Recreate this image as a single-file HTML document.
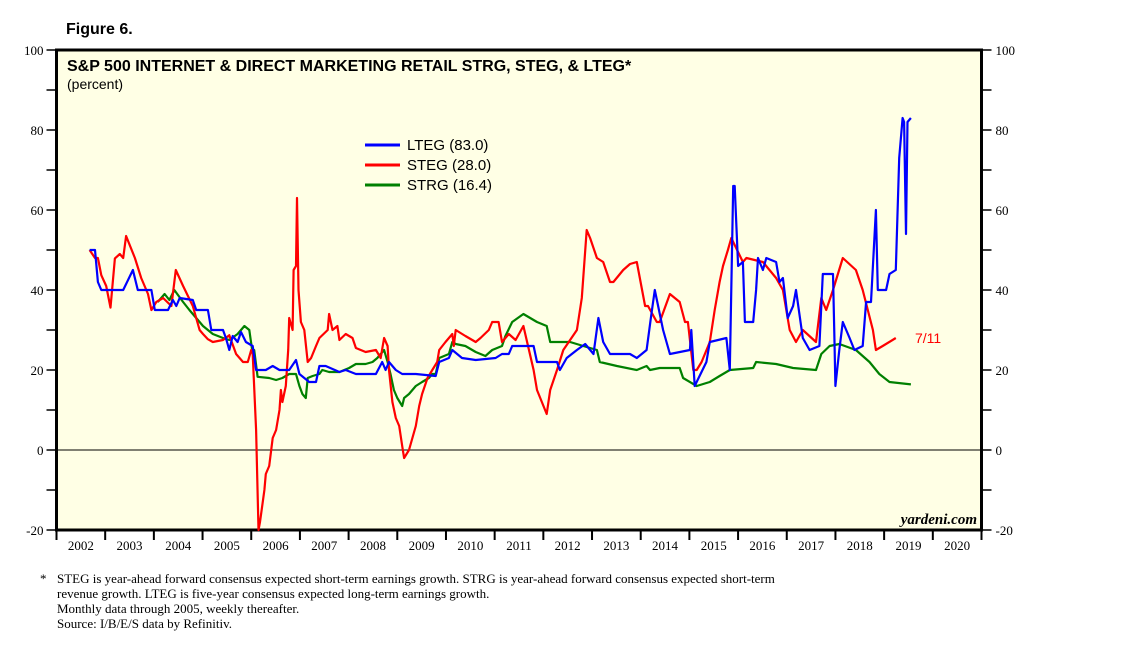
<!DOCTYPE html>
<html><head><meta charset="utf-8"><style>
body{margin:0;background:#fff;}
svg text{font-family:"Liberation Sans",sans-serif;}
.serif{font-family:"Liberation Serif",serif;}
</style></head><body>
<svg id="c" width="1138" height="644" xmlns="http://www.w3.org/2000/svg">
<text x="66" y="34" font-size="16" font-weight="bold">Figure 6.</text>
<rect x="56.5" y="50" width="925" height="480" fill="#ffffe5" stroke="#000" stroke-width="3"/>
<text x="67" y="71" font-size="16" font-weight="bold">S&amp;P 500 INTERNET &amp; DIRECT MARKETING RETAIL STRG, STEG, &amp; LTEG*</text>
<text x="67" y="89" font-size="14">(percent)</text>
<g id="axes"></g>
<g id="series"></g>
<g>
<line x1="365" y1="145" x2="400" y2="145" stroke="#0000ff" stroke-width="3"/>
<text x="407" y="150" font-size="15">LTEG (83.0)</text>
<line x1="365" y1="165" x2="400" y2="165" stroke="#ff0000" stroke-width="3"/>
<text x="407" y="170" font-size="15">STEG (28.0)</text>
<line x1="365" y1="185" x2="400" y2="185" stroke="#008000" stroke-width="3"/>
<text x="407" y="190" font-size="15">STRG (16.4)</text>
</g>
<text x="915" y="343" font-size="14" fill="#ff0000">7/11</text>
<text class="serif" x="977" y="524" font-size="15" font-style="italic" font-weight="bold" text-anchor="end">yardeni.com</text>
<g class="serif" font-size="13">
<text class="serif" x="40" y="583">*</text>
<text class="serif" x="57" y="583">STEG is year-ahead forward consensus expected short-term earnings growth. STRG is year-ahead forward consensus expected short-term</text>
<text class="serif" x="57" y="598">revenue growth. LTEG is five-year consensus expected long-term earnings growth.</text>
<text class="serif" x="57" y="613">Monthly data through 2005, weekly thereafter.</text>
<text class="serif" x="57" y="628">Source: I/B/E/S data by Refinitiv.</text>
</g>
</svg>
<script>
const yTicks=[-20,0,20,40,60,80,100];
const years=[2002,2003,2004,2005,2006,2007,2008,2009,2010,2011,2012,2013,2014,2015,2016,2017,2018,2019,2020];
const ltegX=[2002.68,2002.79,2002.85,2002.92,2003.37,2003.57,2003.67,2003.95,2004.02,2004.29,2004.39,2004.46,2004.53,2004.80,2004.87,2005.11,2005.18,2005.42,2005.48,2005.55,2005.62,2005.72,2005.79,2005.89,2006.03,2006.10,2006.30,2006.44,2006.58,2006.78,2006.92,2006.99,2007.19,2007.33,2007.40,2007.53,2007.81,2007.94,2008.15,2008.56,2008.69,2008.76,2008.83,2008.97,2009.10,2009.38,2009.79,2009.86,2010.06,2010.13,2010.33,2010.61,2011.02,2011.15,2011.29,2011.36,2011.80,2011.87,2012.28,2012.34,2012.48,2012.69,2012.86,2013.03,2013.13,2013.23,2013.37,2013.78,2013.92,2014.12,2014.22,2014.29,2014.46,2014.60,2015.01,2015.04,2015.11,2015.35,2015.42,2015.76,2015.83,2015.90,2015.93,2016.00,2016.10,2016.14,2016.31,2016.37,2016.41,2016.51,2016.58,2016.78,2016.85,2016.92,2017.02,2017.13,2017.19,2017.33,2017.47,2017.67,2017.74,2017.95,2017.98,2018.00,2018.08,2018.15,2018.29,2018.39,2018.56,2018.63,2018.73,2018.83,2018.87,2019.04,2019.11,2019.24,2019.31,2019.38,2019.41,2019.45,2019.48,2019.55];
const ltegV=[50,50,42,40,40,45,40,40,35,35,37.5,36,38,37.5,35,35,30,30,28,25,28.5,27,29.5,27,26,20,20,21,20,20,22.5,19,17,17,21,21,19.5,20,19,19,22,20,22,20,19,19,18.5,22,23,25,23,22.5,23,24,24,26,26,22,22,20,23,25,26.5,24,33,27,24,24,23,25,34,40,30,24,25,30,16,22,27,28,20,66,66,46,47,32,32,40,48,45,48,47,42,43,33,36,40,28,25,26,44,44,27,16,25,32,28,25,26,37,37,60,40,40,44,45,73,83,82,54,82,83];
const stegX=[2002.68,2002.79,2002.85,2002.92,2003.02,2003.11,2003.20,2003.30,2003.37,2003.43,2003.61,2003.74,2003.88,2003.95,2004.05,2004.19,2004.36,2004.45,2004.60,2004.80,2004.94,2005.01,2005.11,2005.21,2005.42,2005.55,2005.69,2005.83,2005.93,2006.00,2006.03,2006.10,2006.15,2006.18,2006.27,2006.30,2006.37,2006.44,2006.51,2006.58,2006.61,2006.64,2006.71,2006.76,2006.78,2006.85,2006.87,2006.92,2006.94,2006.97,2007.02,2007.09,2007.16,2007.23,2007.33,2007.40,2007.57,2007.60,2007.67,2007.77,2007.81,2007.94,2008.08,2008.15,2008.35,2008.56,2008.66,2008.73,2008.80,2008.83,2008.90,2008.97,2009.04,2009.10,2009.14,2009.24,2009.31,2009.38,2009.45,2009.51,2009.62,2009.72,2009.82,2009.86,2009.99,2010.13,2010.16,2010.20,2010.40,2010.61,2010.71,2010.88,2010.95,2011.08,2011.15,2011.29,2011.43,2011.59,2011.80,2011.87,2012.07,2012.14,2012.28,2012.41,2012.69,2012.79,2012.89,2012.96,2013.10,2013.23,2013.37,2013.44,2013.64,2013.78,2013.92,2014.09,2014.15,2014.33,2014.39,2014.60,2014.80,2014.91,2014.97,2015.08,2015.15,2015.25,2015.42,2015.52,2015.62,2015.69,2015.79,2015.86,2016.10,2016.17,2016.51,2016.78,2016.92,2017.06,2017.19,2017.33,2017.60,2017.71,2017.81,2017.95,2018.15,2018.42,2018.56,2018.77,2018.83,2018.97,2019.24,2019.55];
const stegV=[50,48,48,43.7,41,35.6,47.9,49,48,53.5,48,43,39,35,37,38,36,45,41,36,30,29,27.7,27,27.5,28.7,24,22,22,25,24,5,-20,-18,-10,-6,-4,3,5,10,15,12,16,25,33,30,45,46,63,40,32,30,22,23,26,28,30,34,30,31,27.5,29,28,25.5,24.5,25,23,28,26,20,12,8,6,1,-2,0,3,6,11,14,18,20,22,25,27,29,26,30,28.5,27,28,30,32,32,27,29,27.5,31,20,15,9,15,20,25,30,38,55,53,48,47,42,42,45,46.5,47,36,36,32,32,39,37,32,32,20,20,22,27,35,42,46,50,53,47,48,47,43,40,30,27,30,27,38,35,40,48,45,40,30,25,26,28];
const strgX=[2004.08,2004.22,2004.32,2004.42,2004.60,2004.73,2004.87,2005.01,2005.21,2005.42,2005.55,2005.72,2005.86,2005.96,2006.03,2006.06,2006.13,2006.37,2006.51,2006.64,2006.78,2006.92,2006.99,2007.05,2007.12,2007.16,2007.26,2007.40,2007.46,2007.60,2007.81,2008.01,2008.15,2008.35,2008.49,2008.59,2008.73,2008.80,2008.86,2008.93,2009.00,2009.10,2009.14,2009.24,2009.38,2009.51,2009.65,2009.72,2009.79,2009.86,2010.06,2010.13,2010.20,2010.40,2010.61,2010.81,2010.95,2011.15,2011.22,2011.36,2011.59,2011.87,2012.07,2012.14,2012.55,2012.82,2013.10,2013.16,2013.51,2013.92,2014.12,2014.19,2014.39,2014.80,2014.87,2015.15,2015.42,2015.62,2015.83,2016.31,2016.37,2016.78,2017.13,2017.60,2017.71,2017.88,2018.08,2018.42,2018.70,2018.90,2019.11,2019.55];
const strgV=[37,39,37.5,40,37,35,33,31,29,28,27.5,29,31,30,24,25,18.3,18,17.5,18,19,19,16,14,13,18,18.5,19,20,19.5,19.5,20.5,21.5,21.5,22,23,25,22,19,15,13,11,13,14,16,17,18,19,19,23,24,27,26.5,26,24.5,23.5,25,26,28.5,32,34,32,31,27,27,26,25,22,21,20,21,20,20.5,20.5,18,16,17,18.5,20,20.5,22,21.5,20.5,20,24,26,26.5,25,22,19,17,16.4];
</script>
<script>
(function(){
const NS="http://www.w3.org/2000/svg";
const L=56.5,R=981.5,T=50,B=530;
const xs=y=>L+(y-2002)*(R-L)/19;
const ys=v=>T+(100-v)*(B-T)/120;
function mk(tag,attrs,parent){const e=document.createElementNS(NS,tag);for(const k in attrs)e.setAttribute(k,attrs[k]);parent.appendChild(e);return e;}
const ax=document.getElementById('axes');
for(let v=-20;v<=100;v+=10){
  const y=ys(v);
  const t1=mk('line',{x1:L-10,y1:y,x2:L,y2:y,stroke:'#000','stroke-width':1.5},ax);
  
  
  const t2=mk('line',{x1:R,y1:y,x2:R+10,y2:y,stroke:'#000','stroke-width':1.5},ax);
  
  
}
yTicks.forEach(v=>{
  const y=ys(v);
  const a=mk('text',{x:L-13,y:y+5,'font-size':13,'text-anchor':'end','class':'serif'},ax);a.textContent=v;
  
  
  const b=mk('text',{x:R+14,y:y+5,'font-size':13,'class':'serif'},ax);b.textContent=v;
  
  
});
const z=mk('line',{x1:L,y1:ys(0),x2:R,y2:ys(0),stroke:'#000','stroke-width':1},ax);


for(let i=0;i<=years.length;i++){
  const x=xs(2002+i);
  const t=mk('line',{x1:x,y1:B,x2:x,y2:B+10,stroke:'#000','stroke-width':2},ax);
  
  
}
years.forEach(yr=>{
  const t=mk('text',{x:xs(yr+0.5),y:B+20,'font-size':13,'text-anchor':'middle','class':'serif'},ax);t.textContent=yr;
  
  
});
const sg=document.getElementById('series');
function line(X,V,color,name){
  const d=X.map((x,i)=>(i?'L':'M')+xs(x).toFixed(1)+','+ys(V[i]).toFixed(1)).join('');
  const p=mk('path',{d:d,fill:'none',stroke:color,'stroke-width':2.2,'stroke-linejoin':'round'},sg);
  
  
}
line(strgX,strgV,'#008000','strg-line');
line(stegX,stegV,'#ff0000','steg-line');
line(ltegX,ltegV,'#0000ff','lteg-line');
})();
</script>
</body></html>
